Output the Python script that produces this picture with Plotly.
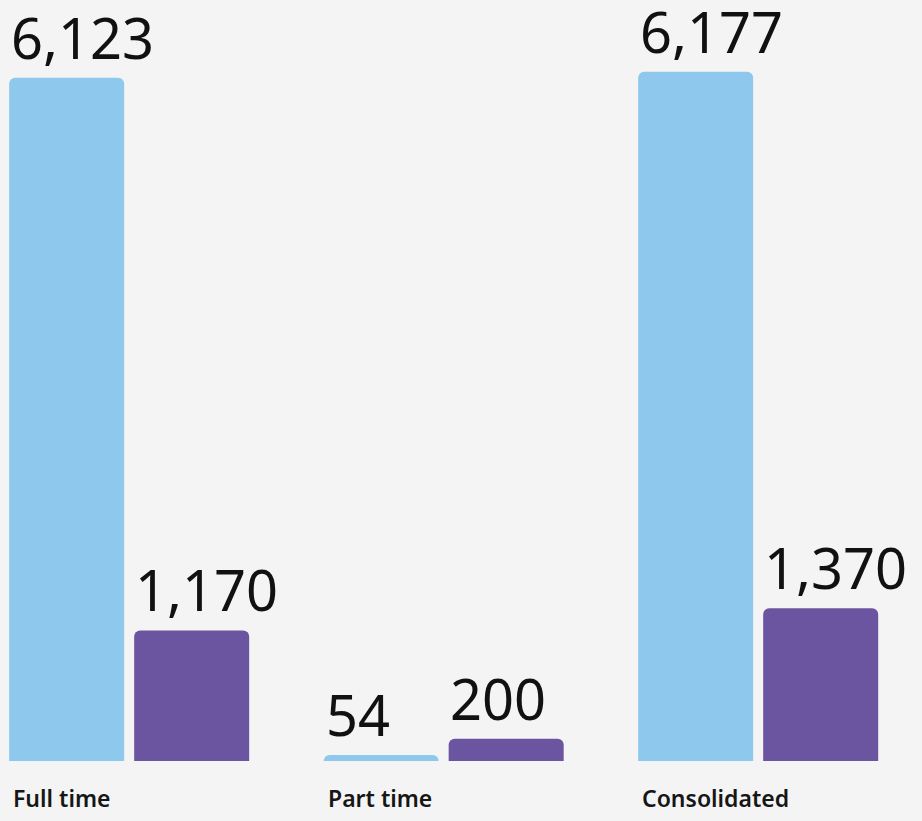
import plotly.graph_objects as go

# Headcount by employment type
categories = ["Full time", "Part time", "Consolidated"]
series_a = [6123, 54, 6177]
series_b = [1170, 200, 1370]

BLUE = "#8fc8ed"
PURPLE = "#6c55a0"
BG = "#f4f4f4"

fig = go.Figure()

fig.add_trace(go.Bar(x=categories, y=series_a, name="A",
                     marker=dict(color=BLUE, cornerradius=6, line=dict(width=0))))
fig.add_trace(go.Bar(x=categories, y=series_b, name="B",
                     marker=dict(color=PURPLE, cornerradius=6, line=dict(width=0))))

# value labels, left-aligned with each bar
annotations = []
for vals, shift in [(series_a, -119), (series_b, 5)]:
    for cat, v in zip(categories, vals):
        annotations.append(dict(
            x=cat, y=v, xref="x", yref="y",
            text=f"{v:,}", showarrow=False,
            xanchor="left", yanchor="bottom",
            xshift=shift, yshift=2, borderpad=0,
            font=dict(family="Noto Sans", size=56, color="#111111"),
        ))

# category labels under each group
for cat in categories:
    annotations.append(dict(
        x=cat, y=0, xref="x", yref="y",
        text=cat, showarrow=False,
        xanchor="left", yanchor="top",
        xshift=-118, yshift=-19,
        font=dict(family="Noto Sans", size=23, weight=600, color="#161616"),
    ))

fig.update_layout(
    width=922, height=821,
    margin=dict(l=0, r=0, t=0, b=60),
    paper_bgcolor=BG, plot_bgcolor=BG,
    barmode="group", bargap=0.205, bargroupgap=0.08,
    showlegend=False,
    annotations=annotations,
)
fig.update_xaxes(range=[-0.4107, 2.5209], showticklabels=False,
                 showgrid=False, zeroline=False, showline=False, ticks="")
fig.update_yaxes(range=[0, 6820], visible=False, showgrid=False, zeroline=False)

fig.write_html("out.html", config={"displayModeBar": False})

# drop the default page margin so the figure sits at the window's corner
with open("out.html", encoding="utf-8") as f:
    html = f.read()
html = html.replace("<head>", "<head><style>body{margin:0;background:#f4f4f4}</style>", 1)
with open("out.html", "w", encoding="utf-8") as f:
    f.write(html)
